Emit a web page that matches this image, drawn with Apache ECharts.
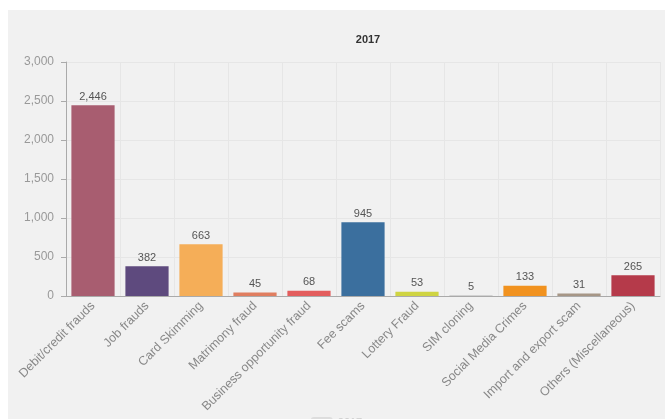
<!DOCTYPE html>
<html>
<head>
<meta charset="utf-8">
<script src="https://cdn.jsdelivr.net/npm/echarts@6/dist/echarts.min.js"></script>
<style>
  html, body { margin: 0; padding: 0; background: #fff; }
  #chart { position: absolute; left: 8px; top: 10px; width: 657px; height: 409px; background: #f1f1f1; }
</style>
</head>
<body>
<div id="chart"></div>
<script>
const categories = ['Debit/credit frauds', 'Job frauds', 'Card Skimming', 'Matrimony fraud', 'Business opportunity fraud', 'Fee scams', 'Lottery Fraud', 'SIM cloning', 'Social Media Crimes', 'Import and export scam', 'Others (Miscellaneous)'];
const values = [2446, 382, 663, 45, 68, 945, 53, 5, 133, 31, 265];
const barColors = ['#a85d70', '#5e4a7e', '#f5ae58', '#e07e60', '#e35d5d', '#3b6f9e', '#cfd442', '#b4b4b4', '#f1921f', '#a69686', '#b53a4a'];
const yTicks = [0, 500, 1000, 1500, 2000, 2500, 3000];

const chart = echarts.init(document.getElementById('chart'));
const fmt = (v) => Number(v).toLocaleString('en-US');

chart.setOption({
  backgroundColor: 'transparent',
  animation: false,
  title: {
    text: '2017',
    left: 355,
    top: 19,
    textAlign: 'center',
    textStyle: { fontSize: 11, fontWeight: 'bold', color: '#333', fontFamily: 'Arial' }
  },
  legend: {
    data: ['2017'],
    left: 'center',
    top: 402,
    icon: 'roundRect',
    itemWidth: 22,
    itemHeight: 12,
    textStyle: { color: '#ccc', fontSize: 11 },
    itemStyle: { color: '#ddd' }
  },
  grid: { left: 58, right: 5, top: 52, bottom: 123 },
  xAxis: {
    type: 'category',
    data: categories,
    axisLine: { lineStyle: { color: '#aaa' } },
    axisTick: { alignWithLabel: true, length: 4, lineStyle: { color: '#aaa' } },
    axisLabel: { rotate: 45, interval: 0, color: '#888', fontSize: 12.5, fontFamily: 'Arial', margin: 8 },
    splitLine: { show: true, lineStyle: { color: '#e6e6e6' } }
  },
  yAxis: {
    type: 'value',
    min: yTicks[0],
    max: yTicks[yTicks.length - 1],
    interval: 500,
    axisLine: { show: true, lineStyle: { color: '#aaa' } },
    axisTick: { show: true, length: 5, lineStyle: { color: '#aaa' } },
    axisLabel: { color: '#999', fontSize: 12, fontFamily: 'Arial', margin: 12, formatter: fmt },
    splitLine: { lineStyle: { color: '#e6e6e6' } }
  },
  series: [{
    name: '2017',
    type: 'bar',
    barCategoryGap: '20%',
    data: values.map((v, i) => ({ value: v, itemStyle: { color: barColors[i] } })),
    label: {
      show: true,
      position: 'top',
      distance: 3,
      color: '#555',
      fontSize: 11,
      fontFamily: 'Arial',
      formatter: (p) => fmt(p.value)
    }
  }]
});
</script>
</body>
</html>
